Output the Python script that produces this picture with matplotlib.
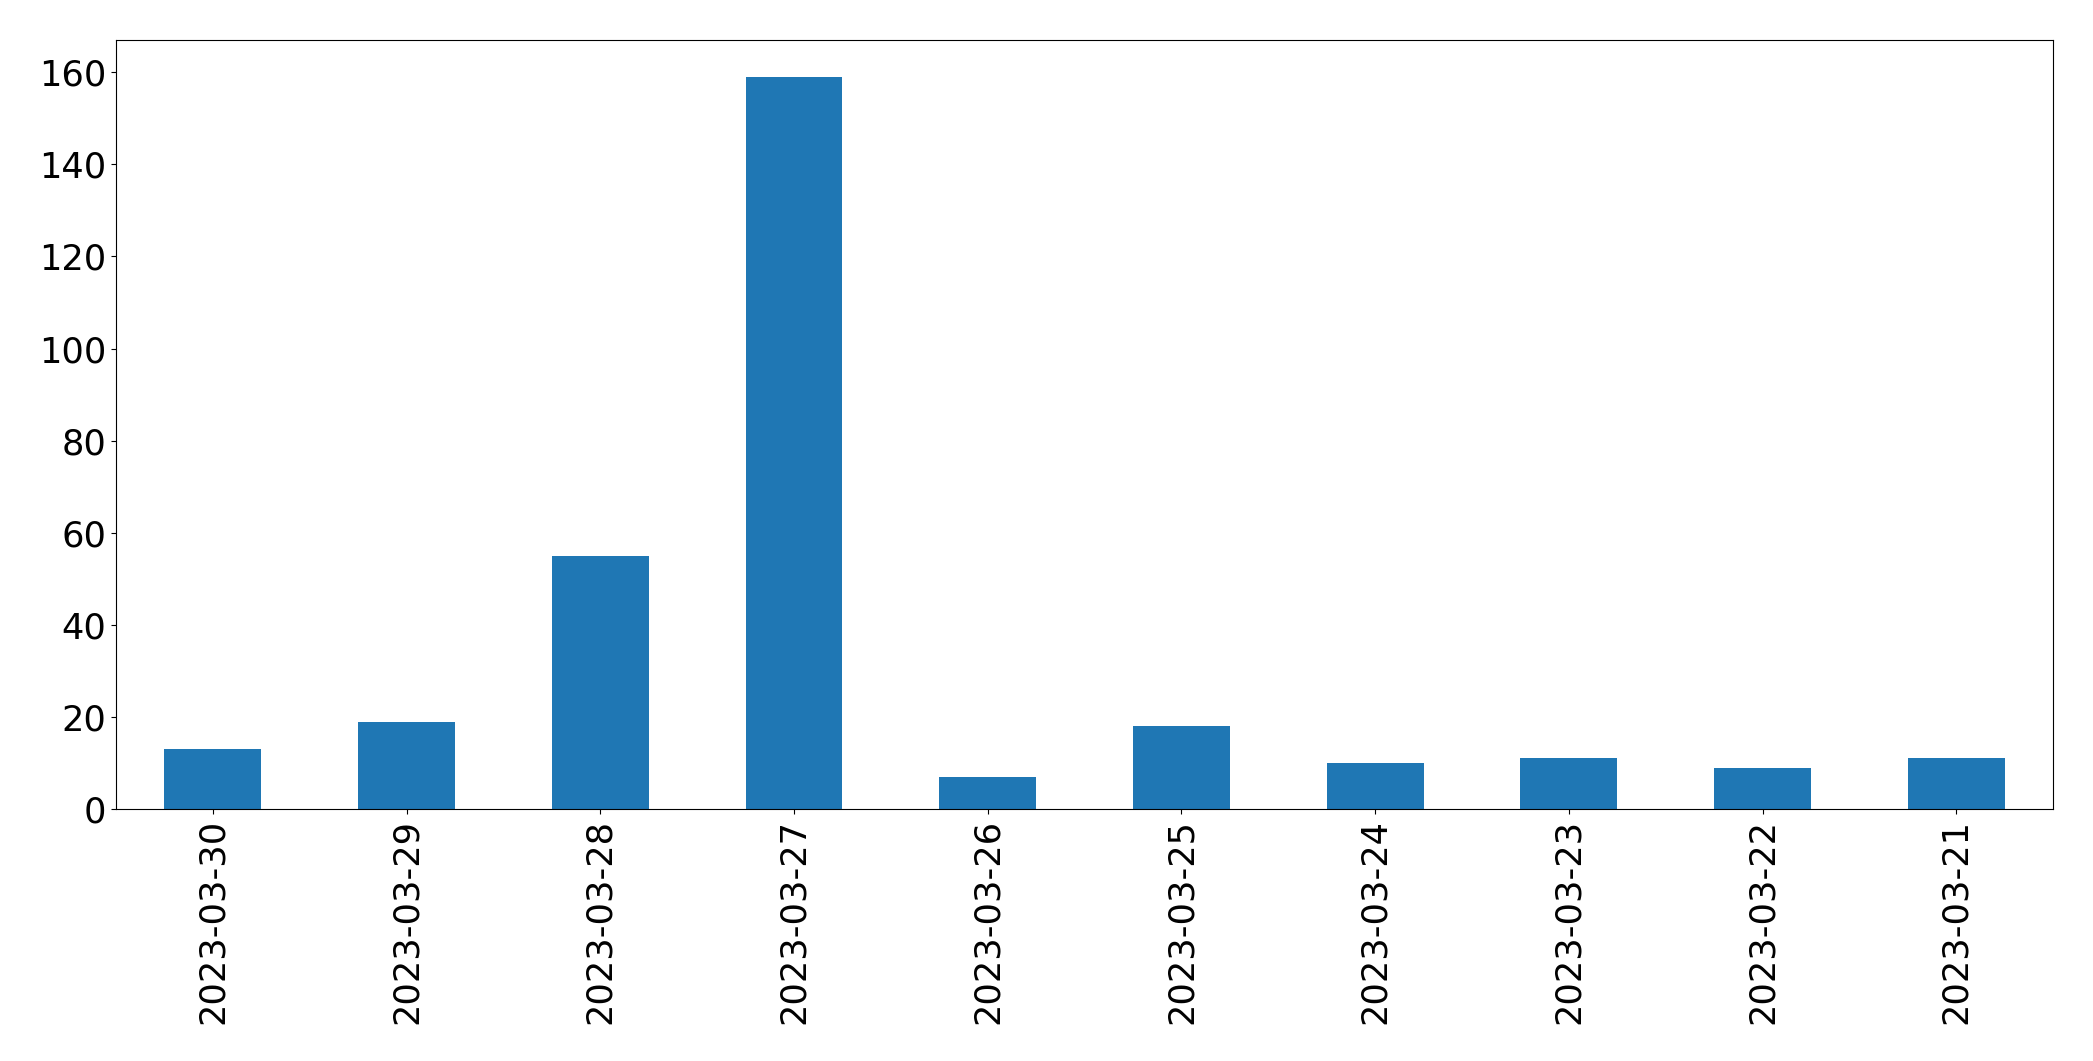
import matplotlib
matplotlib.use('Agg')
import matplotlib.pyplot as plt

dates = ['2023-03-30', '2023-03-29', '2023-03-28', '2023-03-27', '2023-03-26',
         '2023-03-25', '2023-03-24', '2023-03-23', '2023-03-22', '2023-03-21']
counts = [13, 19, 55, 159, 7, 18, 10, 11, 9, 11]

fig = plt.figure(figsize=(20.93, 10.61), dpi=100)
ax = fig.add_axes([0.0554, 0.2375, 0.9256, 0.7245])

x = range(len(dates))
ax.bar(x, counts, width=0.5, color='#1f77b4')
ax.set_xlim(-0.5, len(dates) - 0.5)
ax.set_xticks(list(x))
ax.set_xticklabels(dates, rotation=90)
ax.tick_params(axis='both', labelsize=25.3)

fig.savefig('out.png', dpi=100)
